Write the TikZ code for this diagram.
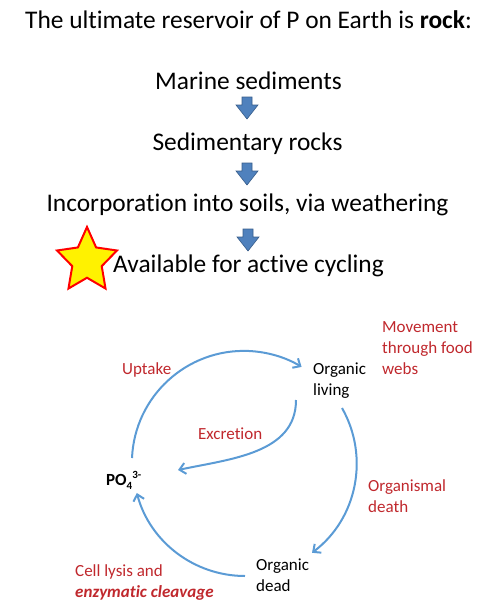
\documentclass[tikz,border=0pt]{standalone}
\usepackage{fontspec}
\setmainfont[Ligatures=NoCommon]{Carlito}
\usetikzlibrary{arrows.meta}
\definecolor{redtxt}{RGB}{192,40,45}
\definecolor{cyc}{RGB}{91,155,213}
\definecolor{blkfill}{RGB}{79,129,189}
\definecolor{blkdraw}{RGB}{56,93,138}
\newcommand{\scr}[1]{{\fontsize{11}{11}\selectfont #1}}
\begin{document}
\begin{tikzpicture}[x=1pt,y=1pt,
  big/.style={font=\fontsize{25.4}{30}\selectfont, inner sep=0pt, anchor=base},
  small/.style={font=\fontsize{17}{21}\selectfont, inner sep=0pt, anchor=base west, align=left},
  redlab/.style={small, text=redtxt},
  cycarrow/.style={draw=cyc, line width=2pt, -{Straight Barb[length=6pt,width=11pt]}},
  blockarrow/.style={fill=blkfill, draw=blkdraw, line width=0.6pt}
]
\useasboundingbox (0,0) rectangle (503,-613);

% top chain
\node[big] (title) at (248.5,-28) {The ultimate reservoir of P on Earth is \textbf{rock}:};
\node[big] (marine) at (248.5,-89) {Marine sediments};
\node[big] (sedrock) at (247.5,-150) {Sedimentary rocks};
\node[big] (incorp) at (247.5,-211) {Incorporation into soils, via weathering};

% star
\begin{scope}[shift={(87,-261)}, yscale=1.08]
\draw[fill=yellow, draw=red, line width=2pt, line join=miter]
  (90:31.5) -- (126:15.5) -- (162:31.5) -- (198:15.5) -- (234:31.5) --
  (270:15.5) -- (306:31.5) -- (342:15.5) -- (18:31.5) -- (54:15.5) -- cycle;
\end{scope}
\node[big, anchor=base west] (avail) at (113,-272) {Available for active cycling};

% block arrows
\foreach \cx/\ya in {247/97, 247/163, 248/229}{
  \draw[blockarrow] (\cx-5,-\ya) -- (\cx+5,-\ya) -- (\cx+5,-\ya-8) -- (\cx+11,-\ya-8)
    -- (\cx,-\ya-22) -- (\cx-11,-\ya-8) -- (\cx-5,-\ya-8) -- cycle;
}

% cycle labels (base anchor = baseline of last line)
\node[small] (living) at (313,-395) {Organic\\living};
\node[small] (dead) at (256,-591) {Organic\\dead};
\node[small, font=\fontsize{17}{21}\selectfont\bfseries] (po4) at (106,-485) {PO\raisebox{-4pt}{\scr{4}}\raisebox{7pt}{\scr{3-}}};
\node[redlab] (movement) at (382,-374) {Movement\\through food\\webs};
\node[redlab] (uptake) at (122,-374) {Uptake};
\node[redlab] (excretion) at (198,-439) {Excretion};
\node[redlab] (death) at (368,-512) {Organismal\\death};
\node[redlab] (lysis) at (75,-597) {Cell lysis and\\\textbf{\textit{enzymatic cleavage}}};

% connector endpoints
\coordinate (upS) at (132,-458);
\coordinate (deS) at (342,-408);
\coordinate (lyS) at (245,-576);
\coordinate (exS) at (296,-400);
\coordinate (exE) at (178,-470);

\draw[cycarrow] (upS) arc[start angle=177.5, end angle=59, radius=112];
\draw[cycarrow] (deS) arc[start angle=29.6, end angle=-53, radius=112];
\draw[cycarrow] (lyS) arc[start angle=-90, end angle=-165, radius=112];
\draw[cycarrow] (exS) to[out=-90, in=12] (exE);
\end{tikzpicture}
\end{document}
